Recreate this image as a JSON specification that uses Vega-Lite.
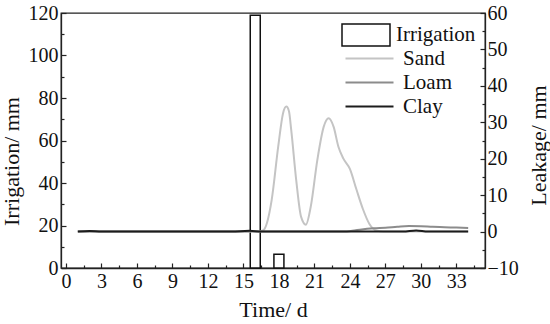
{
  "$schema": "https://vega.github.io/schema/vega-lite/v6.json",
  "autosize": {"type": "none"},
  "padding": {"left": 61, "top": 13, "right": 65, "bottom": 56},
  "width": 424,
  "height": 255,
  "background": "white",
  "config": {
    "font": "Liberation Serif",
    "view": {"stroke": "#222", "strokeWidth": 1.3},
    "axis": {
      "grid": false,
      "labelFont": "Liberation Serif",
      "labelFontSize": 20,
      "labelColor": "#111",
      "labelOverlap": false,
      "titleFont": "Liberation Serif",
      "titleFontSize": 22,
      "titleFontWeight": "normal",
      "titleColor": "#111",
      "domainColor": "#222",
      "domainWidth": 1.3,
      "tickColor": "#222",
      "tickWidth": 1.2
    },
    "axisX": {"labelOverlap": false, "labelSeparation": -30},
    "legend": {
      "labelFont": "Liberation Serif",
      "labelFontSize": 21,
      "labelColor": "#111",
      "padding": 0,
      "rowPadding": 2
    }
  },
  "datasets": {
    "irrigation": [
      {"day": 16, "irrigation": 119, "series": "Irrigation"},
      {"day": 18, "irrigation": 6.5, "series": "Irrigation"}
    ],
    "leakage": [
      {"day": 1, "leakage": 0, "series": "Sand"},
      {"day": 5, "leakage": 0, "series": "Sand"},
      {"day": 10, "leakage": 0, "series": "Sand"},
      {"day": 15, "leakage": 0, "series": "Sand"},
      {"day": 16.3, "leakage": 0, "series": "Sand"},
      {"day": 16.7, "leakage": 0.4, "series": "Sand"},
      {"day": 17.0, "leakage": 2.5, "series": "Sand"},
      {"day": 17.39, "leakage": 8.7, "series": "Sand"},
      {"day": 17.94, "leakage": 23.3, "series": "Sand"},
      {"day": 18.35, "leakage": 32.5, "series": "Sand"},
      {"day": 18.63, "leakage": 34.3, "series": "Sand"},
      {"day": 18.85, "leakage": 33, "series": "Sand"},
      {"day": 19.04, "leakage": 27.9, "series": "Sand"},
      {"day": 19.46, "leakage": 14.2, "series": "Sand"},
      {"day": 19.87, "leakage": 4.1, "series": "Sand"},
      {"day": 20.28, "leakage": 1.9, "series": "Sand"},
      {"day": 20.69, "leakage": 6.8, "series": "Sand"},
      {"day": 21.25, "leakage": 19.7, "series": "Sand"},
      {"day": 21.79, "leakage": 28.8, "series": "Sand"},
      {"day": 22.2, "leakage": 31.1, "series": "Sand"},
      {"day": 22.62, "leakage": 28.8, "series": "Sand"},
      {"day": 23.03, "leakage": 23.3, "series": "Sand"},
      {"day": 23.44, "leakage": 20.1, "series": "Sand"},
      {"day": 24.0, "leakage": 17.2, "series": "Sand"},
      {"day": 24.55, "leakage": 11.6, "series": "Sand"},
      {"day": 25.1, "leakage": 6.2, "series": "Sand"},
      {"day": 25.65, "leakage": 2.1, "series": "Sand"},
      {"day": 26.3, "leakage": 0.2, "series": "Sand"},
      {"day": 26.8, "leakage": 0, "series": "Sand"},
      {"day": 30, "leakage": 0, "series": "Sand"},
      {"day": 34, "leakage": 0, "series": "Sand"},
      {"day": 1, "leakage": 0, "series": "Loam"},
      {"day": 10, "leakage": 0, "series": "Loam"},
      {"day": 20, "leakage": 0, "series": "Loam"},
      {"day": 23.5, "leakage": 0, "series": "Loam"},
      {"day": 24.2, "leakage": 0.2, "series": "Loam"},
      {"day": 25, "leakage": 0.6, "series": "Loam"},
      {"day": 26, "leakage": 0.9, "series": "Loam"},
      {"day": 27, "leakage": 1.05, "series": "Loam"},
      {"day": 28, "leakage": 1.3, "series": "Loam"},
      {"day": 29, "leakage": 1.5, "series": "Loam"},
      {"day": 30, "leakage": 1.45, "series": "Loam"},
      {"day": 31, "leakage": 1.3, "series": "Loam"},
      {"day": 32, "leakage": 1.2, "series": "Loam"},
      {"day": 33, "leakage": 1.1, "series": "Loam"},
      {"day": 34, "leakage": 1.0, "series": "Loam"},
      {"day": 1, "leakage": 0, "series": "Clay"},
      {"day": 2, "leakage": 0.15, "series": "Clay"},
      {"day": 3, "leakage": 0, "series": "Clay"},
      {"day": 14, "leakage": 0, "series": "Clay"},
      {"day": 15.5, "leakage": 0.2, "series": "Clay"},
      {"day": 16.5, "leakage": 0, "series": "Clay"},
      {"day": 28.5, "leakage": 0, "series": "Clay"},
      {"day": 29.6, "leakage": 0.3, "series": "Clay"},
      {"day": 30.6, "leakage": 0, "series": "Clay"},
      {"day": 34, "leakage": 0, "series": "Clay"}
    ]
  },
  "layer": [
    {
      "data": {"name": "irrigation"},
      "mark": {"type": "bar", "size": 10, "stroke": "#111", "strokeWidth": 1.5},
      "encoding": {
        "x": {
          "field": "day", "type": "quantitative",
          "scale": {"domain": [0, 35], "nice": false, "zero": false},
          "axis": {
            "title": "Time/ d",
            "values": [0, 1.5, 3, 4.5, 6, 7.5, 9, 10.5, 12, 13.5, 15, 16.5, 18, 19.5, 21, 22.5, 24, 25.5, 27, 28.5, 30, 31.5, 33, 34.5],
            "labelExpr": "datum.value % 3 === 0 ? datum.label : ''",
            "tickSize": {"condition": {"test": "datum.value % 3 === 0", "value": -5}, "value": -3},
            "labelOverlap": false, "labelBound": false,
            "labelPadding": 8, "titleY": 48, "titleBaseline": "alphabetic", "labelFlush": false
          }
        },
        "y": {
          "field": "irrigation", "type": "quantitative",
          "scale": {"domain": [0, 120], "nice": false},
          "axis": {
            "title": "Irrigation/ mm", "orient": "left",
            "values": [0, 10, 20, 30, 40, 50, 60, 70, 80, 90, 100, 110, 120],
            "labelExpr": "datum.value % 20 === 0 ? datum.label : ''",
            "tickSize": {"condition": {"test": "datum.value % 20 === 0", "value": -5}, "value": -3},
            "labelOverlap": false,
            "labelPadding": 8, "titleX": -50, "titleY": 148, "titleBaseline": "middle", "titleAngle": 270
          }
        },
        "fill": {
          "field": "series", "type": "nominal",
          "scale": {"domain": ["Irrigation"], "range": ["white"]},
          "legend": {
            "orient": "none", "legendX": 292, "legendY": 9, "title": null,
            "symbolType": "M-2,-0.92H2V0.92H-2Z", "symbolSize": 576,
            "symbolStrokeColor": "#111", "symbolStrokeWidth": 1.5, "symbolFillColor": "white",
            "labelOffset": 17
          }
        }
      }
    },
    {
      "data": {"name": "leakage"},
      "mark": {"type": "line", "interpolate": "monotone", "strokeWidth": 2},
      "encoding": {
        "x": {
          "field": "day", "type": "quantitative",
          "axis": {
            "title": "Time/ d",
            "values": [0, 1.5, 3, 4.5, 6, 7.5, 9, 10.5, 12, 13.5, 15, 16.5, 18, 19.5, 21, 22.5, 24, 25.5, 27, 28.5, 30, 31.5, 33, 34.5],
            "labelExpr": "datum.value % 3 === 0 ? datum.label : ''",
            "tickSize": {"condition": {"test": "datum.value % 3 === 0", "value": -5}, "value": -3},
            "labelOverlap": false, "labelBound": false,
            "labelPadding": 8, "titleY": 48, "titleBaseline": "alphabetic", "labelFlush": false
          }
        },
        "y": {
          "field": "leakage", "type": "quantitative",
          "scale": {"domain": [-10, 60], "nice": false, "zero": false},
          "axis": {
            "title": "Leakage/ mm", "orient": "right",
            "values": [-10, -5, 0, 5, 10, 15, 20, 25, 30, 35, 40, 45, 50, 55, 60],
            "labelExpr": "datum.value % 10 === 0 ? datum.label : ''",
            "tickSize": {"condition": {"test": "datum.value % 10 === 0", "value": -5}, "value": -3},
            "labelOverlap": false,
            "labelPadding": 7, "titleX": 53, "titleY": 132, "titleBaseline": "middle", "titleAngle": 270
          }
        },
        "stroke": {
          "field": "series", "type": "nominal",
          "scale": {"domain": ["Sand", "Loam", "Clay"], "range": ["#c4c4c4", "#8c8c8c", "#1c1c1c"]},
          "legend": {
            "orient": "none", "legendX": 298, "legendY": 35, "title": null,
            "symbolType": "M-4,0H4", "symbolSize": 144, "symbolStrokeWidth": 2,
            "labelOffset": 23
          }
        }
      }
    }
  ],
  "resolve": {"scale": {"y": "independent"}}
}
